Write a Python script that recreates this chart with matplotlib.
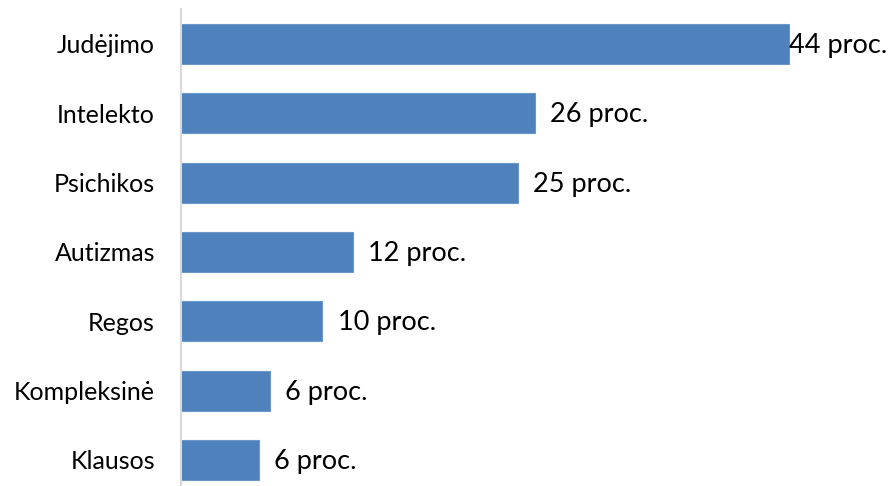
import matplotlib
matplotlib.use("Agg")
import matplotlib.pyplot as plt

categories = ["Judėjimo", "Intelekto", "Psichikos", "Autizmas", "Regos", "Kompleksinė", "Klausos"]
values = [44, 25.6, 24.4, 12.4, 10.2, 6.4, 5.6]
value_labels = ["44 proc.", "26 proc.", "25 proc.", "12 proc.", "10 proc.", "6 proc.", "6 proc."]

plt.rcParams['font.family'] = ['Lato', 'DejaVu Sans']

fig = plt.figure(figsize=(8.91, 4.86), dpi=100)
ax = fig.add_axes([0.2037, -0.0177, 0.7744, 0.9985])

pos = list(range(len(categories)))
ax.barh(pos, values, height=0.577, color="#4F81BD", edgecolor="#6C97CB", linewidth=0.8)
ax.set_ylim(len(categories) - 0.5, -0.5)
ax.set_xlim(0, 50)

for i, (v, lab) in enumerate(zip(values, value_labels)):
    pad = 0 if v == max(values) else 11
    ax.annotate(lab, (v, i), xytext=(pad, -1), textcoords="offset points",
                ha="left", va="center", fontsize=19.5, color="black")

ax.set_yticks(pos)
ax.set_yticklabels(categories, fontsize=18)
ax.tick_params(axis="y", length=0, pad=19)
ax.set_xticks([])
for s in ["top", "right", "bottom"]:
    ax.spines[s].set_visible(False)
ax.spines["left"].set_color("#D9D9D9")
ax.spines["left"].set_linewidth(1.5)

fig.savefig("out.png", dpi=100)
